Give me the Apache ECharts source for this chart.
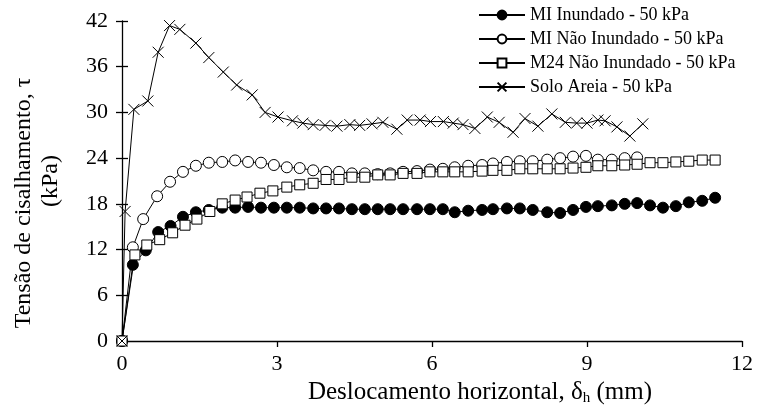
<!DOCTYPE html>
<html>
<head>
<meta charset="utf-8">
<script src="https://cdn.jsdelivr.net/npm/echarts@6/dist/echarts.min.js"></script>
<style>
  html, body { margin: 0; padding: 0; background: #fff; }
  #chart { width: 758px; height: 412px; }
</style>
</head>
<body>
<div id="chart"></div>
<script>
// deslocamento (mm) comum aos ensaios com solo melhorado
var xMI = [0, 0.21, 0.46, 0.70, 0.94, 1.18, 1.43, 1.68, 1.94, 2.19, 2.44, 2.69, 2.94, 3.19, 3.44,
  3.70, 3.95, 4.20, 4.45, 4.70, 4.95, 5.19, 5.44, 5.71, 5.96, 6.21, 6.44, 6.70, 6.97, 7.18,
  7.45, 7.70, 7.95, 8.23, 8.48, 8.73, 8.98, 9.21, 9.48, 9.73, 9.97, 10.22, 10.47, 10.72,
  10.97, 11.23, 11.48];

var tauMIInund = [0, 10.0, 11.9, 14.3, 15.1, 16.3, 16.9, 17.2, 17.5, 17.5, 17.6, 17.5, 17.5, 17.5, 17.5,
  17.4, 17.4, 17.4, 17.3, 17.3, 17.3, 17.3, 17.3, 17.3, 17.3, 17.3, 16.9, 17.1, 17.2, 17.3,
  17.4, 17.4, 17.2, 16.9, 16.8, 17.2, 17.6, 17.7, 17.8, 18.0, 18.1, 17.8, 17.5, 17.7,
  18.2, 18.4, 18.8];

var xMINao = [0, 0.21, 0.41, 0.68, 0.93, 1.18, 1.43, 1.68, 1.94, 2.19, 2.44, 2.69, 2.94, 3.19, 3.44,
  3.70, 3.95, 4.20, 4.45, 4.70, 4.95, 5.19, 5.44, 5.71, 5.96, 6.21, 6.44, 6.70, 6.97, 7.18,
  7.45, 7.70, 7.95, 8.23, 8.48, 8.73, 8.98, 9.21, 9.48, 9.73, 9.97];
var tauMINao = [0, 12.3, 16.0, 19.0, 20.9, 22.2, 23.0, 23.4, 23.5, 23.7, 23.5, 23.4, 23.1, 22.8, 22.7,
  22.4, 22.2, 22.2, 22.0, 22.0, 21.9, 22.0, 22.2, 22.3, 22.5, 22.6, 22.8, 23.0, 23.1, 23.3,
  23.5, 23.6, 23.6, 23.8, 24.0, 24.2, 24.3, 23.8, 23.8, 24.0, 24.1];

var xM24 = [0, 0.25, 0.48, 0.73, 0.98, 1.22, 1.45, 1.70, 1.94, 2.19, 2.42, 2.67, 2.92, 3.19, 3.44,
  3.70, 3.95, 4.20, 4.45, 4.70, 4.95, 5.19, 5.44, 5.71, 5.96, 6.21, 6.44, 6.70, 6.97, 7.18,
  7.45, 7.70, 7.95, 8.23, 8.48, 8.73, 8.98, 9.21, 9.48, 9.73, 9.97, 10.22, 10.47, 10.72,
  10.97, 11.23, 11.48];
var tauM24 = [0, 11.3, 12.6, 13.3, 14.2, 15.2, 16.0, 17.0, 18.0, 18.5, 18.9, 19.4, 19.7, 20.2, 20.5,
  20.7, 21.2, 21.2, 21.5, 21.5, 21.8, 21.8, 22.0, 22.0, 22.2, 22.2, 22.2, 22.2, 22.3, 22.4,
  22.4, 22.6, 22.6, 22.6, 22.6, 22.7, 22.8, 23.0, 23.0, 23.1, 23.2, 23.4, 23.4, 23.5,
  23.6, 23.75, 23.75];

var xAreia = [0, 0.06, 0.23, 0.50, 0.70, 0.92, 1.12, 1.43, 1.68, 1.96, 2.22, 2.52, 2.77, 3.02, 3.30,
  3.50, 3.70, 3.93, 4.16, 4.41, 4.60, 4.84, 5.05, 5.32, 5.52, 5.77, 5.97, 6.22, 6.41, 6.60,
  6.83, 7.07, 7.30, 7.57, 7.80, 8.05, 8.32, 8.58, 8.80, 9.00, 9.21, 9.35, 9.58, 9.83, 10.08];
var tauAreia = [0, 17.0, 30.4, 31.5, 37.9, 41.4, 40.9, 39.1, 37.2, 35.3, 33.6, 32.3, 30.0, 29.4, 28.9,
  28.6, 28.4, 28.3, 28.2, 28.4, 28.3, 28.5, 28.7, 27.8, 29.0, 29.0, 28.8, 28.8, 28.6, 28.4,
  27.9, 29.4, 28.7, 27.4, 29.2, 28.2, 29.8, 28.7, 28.6, 28.6, 29.0, 28.9, 28.1, 26.9, 28.5];

var nomes = ['MI Inundado - 50 kPa', 'MI Não Inundado - 50 kPa', 'M24 Não Inundado - 50 kPa', 'Solo Areia - 50 kPa'];

function pares(xs, ys) {
  var out = [];
  for (var i = 0; i < xs.length; i++) out.push([xs[i], ys[i]]);
  return out;
}

var fonte = 'Liberation Serif';
var chart = echarts.init(document.getElementById('chart'));

function serie(nome, dados, simbolo, tam, preenchido) {
  return {
    name: nome,
    type: 'line',
    data: dados,
    symbol: simbolo,
    symbolSize: tam,
    showSymbol: true,
    showAllSymbol: true,
    clip: false,
    lineStyle: { color: '#000', width: 1 },
    itemStyle: { color: preenchido ? '#000' : '#fff', borderColor: '#000', borderWidth: 1, opacity: 1 },
    emphasis: { disabled: true },
    animation: false
  };
}

chart.setOption({
  backgroundColor: '#fff',
  textStyle: { fontFamily: fonte, color: '#000' },
  grid: { left: 122, right: 16, top: 21, bottom: 71 },
  legend: {
    orient: 'vertical',
    left: 473,
    top: 1,
    itemWidth: 46,
    itemHeight: 11,
    itemGap: 6,
    textStyle: { fontFamily: fonte, fontSize: 18, color: '#000' },
    data: nomes
  },
  xAxis: {
    type: 'value',
    min: 0,
    max: 12,
    interval: 3,
    name: 'Deslocamento horizontal, δ{sub|h} (mm)',
    nameLocation: 'middle',
    nameGap: 34,
    nameTextStyle: {
      fontFamily: fonte, fontSize: 25, color: '#000', padding: [0, 0, 0, 96],
      rich: { sub: { fontFamily: fonte, fontSize: 15, padding: [12, 0, 0, 0] } }
    },
    axisLine: { lineStyle: { color: '#000', width: 1.3 } },
    axisTick: { inside: false, length: 6, lineStyle: { color: '#000', width: 1.3 } },
    axisLabel: { fontFamily: fonte, fontSize: 22, color: '#000', margin: 12 },
    splitLine: { show: false }
  },
  yAxis: [{
    type: 'value',
    min: 0,
    max: 42,
    interval: 6,
    name: '{a|Tensão de cisalhamento, τ}\n{b|(kPa)}',
    nameLocation: 'middle',
    nameGap: 58,
    nameTextStyle: {
      fontFamily: fonte, fontSize: 24, color: '#000', lineHeight: 27,
      rich: {
        a: { fontFamily: fonte, fontSize: 24, lineHeight: 27, padding: [0, 44, 0, 0] },
        b: { fontFamily: fonte, fontSize: 24, lineHeight: 27 }
      }
    },
    axisLine: { show: true, lineStyle: { color: '#000', width: 1.3 } },
    axisTick: { show: true, inside: false, length: 6, lineStyle: { color: '#000', width: 1.3 } },
    axisLabel: { fontFamily: fonte, fontSize: 22, color: '#000', margin: 14 },
    splitLine: { show: false }
  }, {
    type: 'value',
    position: 'left',
    min: 0,
    max: 42,
    interval: 6,
    axisLine: { show: false },
    axisTick: { show: true, inside: true, length: 6, lineStyle: { color: '#000', width: 1.3 } },
    axisLabel: { show: false },
    splitLine: { show: false }
  }],
  series: [
    serie(nomes[0], pares(xMI, tauMIInund), 'circle', 11, true),
    serie(nomes[1], pares(xMINao, tauMINao), 'circle', 11, false),
    serie(nomes[2], pares(xM24, tauM24), 'rect', 10, false),
    serie(nomes[3], pares(xAreia, tauAreia), 'path://M0,0L12,10M12,0L0,10', 11, true)
  ]
});
</script>
</body>
</html>
